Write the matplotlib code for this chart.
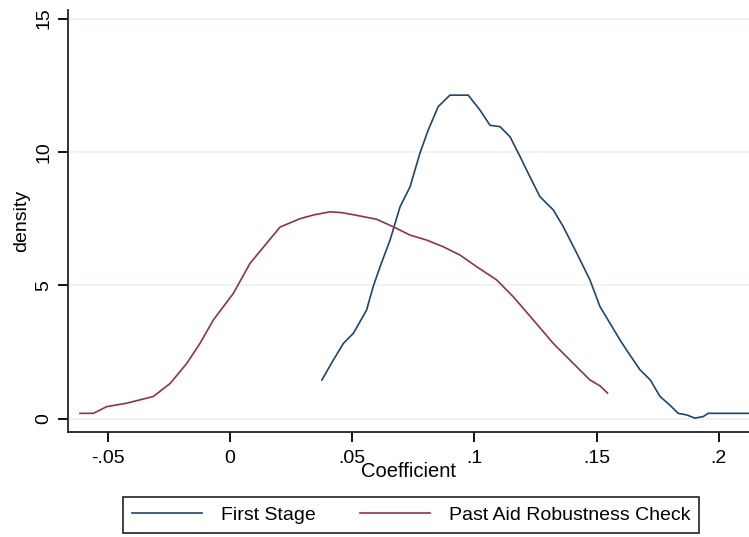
import matplotlib
matplotlib.use("Agg")
import matplotlib.pyplot as plt

# First Stage coefficient density
first_x = [0.0376, 0.0423, 0.0464, 0.0505, 0.0559, 0.0586, 0.0614, 0.0655, 0.0696,
           0.0737, 0.0777, 0.0811, 0.0852, 0.0900, 0.0975, 0.1023, 0.1064, 0.1105,
           0.1146, 0.1187, 0.1227, 0.1268, 0.1323, 0.1364, 0.1419, 0.1473, 0.1514,
           0.1596, 0.1623, 0.1678, 0.1720, 0.1760, 0.1800, 0.1834, 0.1869, 0.1903,
           0.1937, 0.1957, 0.2140]
first_y = [1.46, 2.21, 2.83, 3.21, 4.08, 4.96, 5.70, 6.70, 7.95,
           8.70, 9.95, 10.82, 11.70, 12.13, 12.13, 11.57, 11.00, 10.95,
           10.57, 9.83, 9.08, 8.33, 7.83, 7.20, 6.21, 5.21, 4.21,
           2.96, 2.58, 1.84, 1.46, 0.84, 0.52, 0.21, 0.15, 0.03,
           0.09, 0.21, 0.21]

# Past Aid Robustness Check density
past_x = [-0.0614, -0.0559, -0.0505, -0.0423, -0.0314, -0.0245, -0.0177, -0.0123,
          -0.0068, 0.0014, 0.0082, 0.0205, 0.0286, 0.0341, 0.0409, 0.0457, 0.0511,
          0.0600, 0.0668, 0.0736, 0.0805, 0.0873, 0.0941, 0.1010, 0.1091, 0.1159,
          0.1241, 0.1323, 0.1405, 0.1473, 0.1514, 0.1545]
past_y = [0.21, 0.21, 0.46, 0.59, 0.84, 1.33, 2.08, 2.83,
          3.71, 4.71, 5.83, 7.19, 7.50, 7.64, 7.76, 7.73, 7.64,
          7.48, 7.20, 6.89, 6.70, 6.45, 6.14, 5.70, 5.21, 4.58,
          3.71, 2.83, 2.08, 1.46, 1.24, 0.97]

xticks = [-0.05, 0, 0.05, 0.1, 0.15, 0.2]
xtick_labels = ["-.05", "0", ".05", ".1", ".15", ".2"]
yticks = [0, 5, 10, 15]

plt.rcParams["font.family"] = ["Liberation Sans", "DejaVu Sans"]

fig = plt.figure(figsize=(7.49, 5.37), dpi=100)
ax = fig.add_axes([0.0908, 0.1955, 0.9092, 0.7859])

for y in yticks:
    ax.axhline(y, color="#eaf2f3", lw=1.2, zorder=0)

ax.plot(first_x, first_y, color="#1a476f", lw=1.2, label="First Stage")
ax.plot(past_x, past_y, color="#90353b", lw=1.2, label="Past Aid Robustness Check")

ax.set_xlim(-0.0663, 0.2124)
ax.set_ylim(-0.49, 15.32)
ax.set_xticks(xticks)
ax.set_xticklabels(xtick_labels)
ax.set_yticks(yticks)
ax.set_yticklabels([str(v) for v in yticks], rotation=90, va="center")

for s in ["top", "right"]:
    ax.spines[s].set_visible(False)
for s in ["left", "bottom"]:
    ax.spines[s].set_linewidth(1.3)
    ax.spines[s].set_color("#222222")

ax.tick_params(direction="out", length=7, width=1.3, labelsize=14, pad=6)
ax.tick_params(axis="y", pad=4)
ax.set_xlabel("Coefficient", fontsize=14.5, labelpad=-4)
ax.set_ylabel("density", fontsize=14, labelpad=4)

leg = fig.legend(loc="center", bbox_to_anchor=(0.549, 0.041), ncol=2,
                 fontsize=14, handlelength=3.6, handletextpad=0.95,
                 columnspacing=2.3, fancybox=False, edgecolor="black",
                 borderpad=0.45)
leg.get_frame().set_linewidth(1.3)

fig.savefig("out.png", dpi=100)
